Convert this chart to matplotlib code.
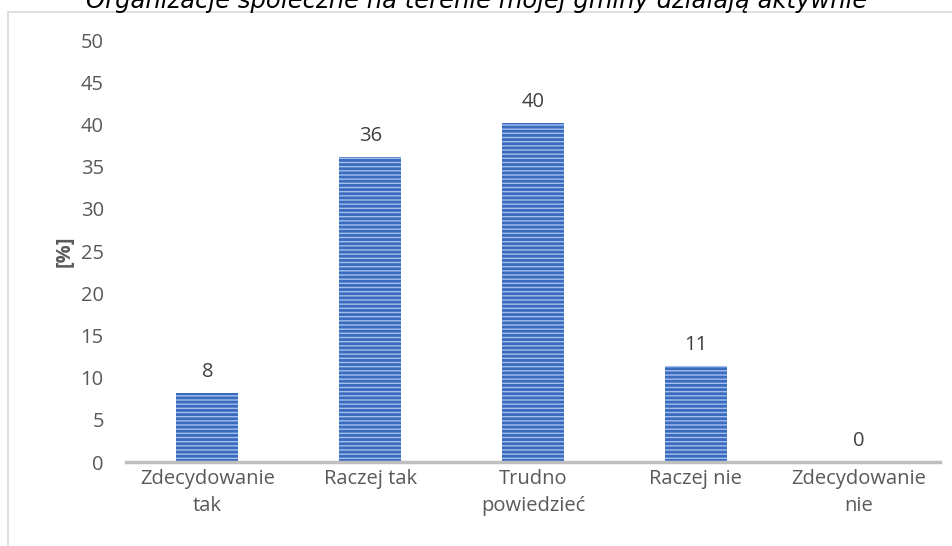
import matplotlib
matplotlib.use('Agg')
import matplotlib.pyplot as plt
from matplotlib.patches import Rectangle

# Dane wykresu
categories = ['Zdecydowanie\ntak', 'Raczej tak', 'Trudno\npowiedzieć', 'Raczej nie', 'Zdecydowanie\nnie']
values = [8.2, 36.1, 40.2, 11.4, 0.0]
title = 'Organizacje społeczne na terenie mojej gminy działają aktywnie'
y_ticks = [0, 5, 10, 15, 20, 25, 30, 35, 40, 45, 50]

plt.rcParams['hatch.linewidth'] = 2.0

fig = plt.figure(figsize=(9.53, 5.46), dpi=100)
ax = fig.add_axes([0.1322, 0.1538, 0.8542, 0.7729])

# Ramka wykresu (przycięta)
fig.patches.append(Rectangle((8 / 953, -0.1), 2, 1 - 12 / 546 + 0.1, transform=fig.transFigure,
                             fill=False, edgecolor='#d9d9d9', linewidth=1.2))

x = range(len(categories))
ax.bar(x, values, width=0.38, facecolor='#a3c0ec', edgecolor='#3b6bbf', linewidth=0,
       hatch='----', zorder=2)

for xi, v in zip(x, values):
    ax.text(xi, v + 1.3, f'{v:.0f}', ha='center', va='bottom', fontsize=14.5, color='#404040',
            family='Open Sans')

ax.set_xlim(-0.5, len(categories) - 0.5)
ax.set_ylim(0, 50)
ax.set_yticks(y_ticks)
ax.set_xticks(list(x))
ax.set_xticklabels(categories, fontsize=14.5, color='#595959', family='Open Sans', linespacing=1.5)
ax.set_yticklabels([str(t) for t in y_ticks], fontsize=14.5, color='#595959', family='Open Sans')
ax.tick_params(axis='both', length=0)
ax.tick_params(axis='x', pad=5)
ax.tick_params(axis='y', pad=16)

for side in ['top', 'right', 'left']:
    ax.spines[side].set_visible(False)
ax.spines['bottom'].set_color('#bfbfbf')
ax.spines['bottom'].set_linewidth(2.5)

ax.set_ylabel('[%]', fontsize=14.5, color='#595959', fontweight='bold', family='Open Sans', labelpad=4)

# Tytuł częściowo ucięty u góry, jak w oryginale
fig.text(0.5, 1 - 8 / 546, title, ha='center', va='baseline', fontsize=17.5, style='italic',
         color='#000000', family='DejaVu Sans')

plt.savefig('out.png', dpi=100)
plt.close()
